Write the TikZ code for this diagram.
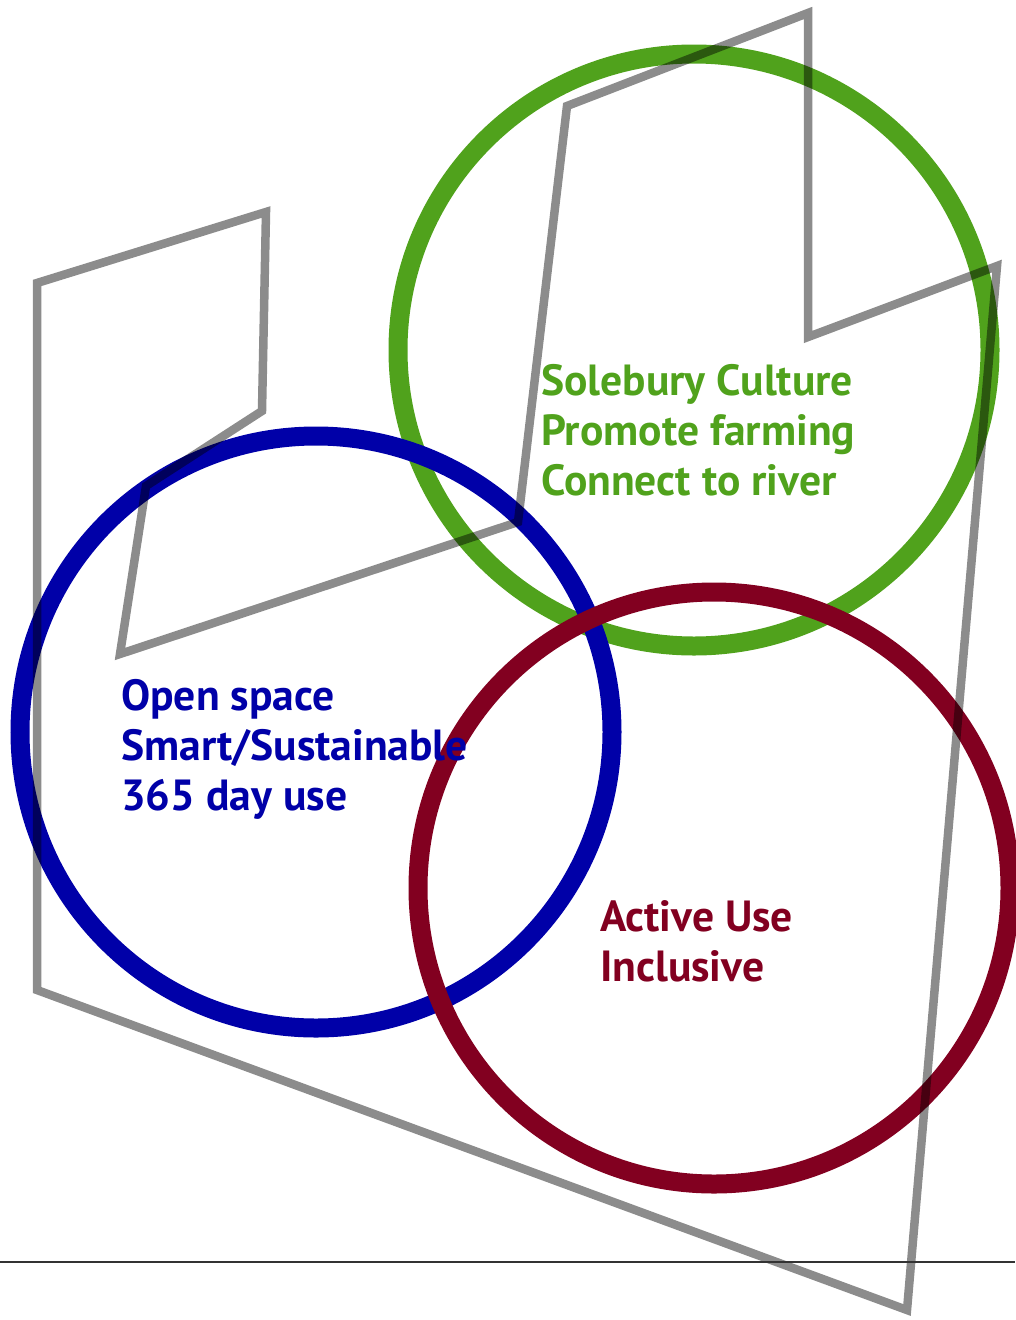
\documentclass[tikz,border=0pt]{standalone}
\usepackage{fontspec}
\setmainfont{PT Sans}
\definecolor{cgreen}{RGB}{80,162,28}
\definecolor{cblue}{RGB}{0,0,168}
\definecolor{cred}{RGB}{130,0,32}
\begin{document}
\begin{tikzpicture}[x=1pt,y=-1pt,
  ring/.style={line width=19pt},
  outline/.style={draw=black,draw opacity=0.45,line width=8.5pt,line join=miter},
  lbl/.style={anchor=base west,inner sep=0pt,font=\fontsize{43.6}{50}\selectfont\bfseries}]
\useasboundingbox (0,0) rectangle (1015,1320);
% circles
\draw[ring,cgreen] (694,350) circle[radius=296];
\draw[ring,cblue] (316,732) circle[radius=296];
\draw[ring,cred] (714,888) circle[radius=296];
% outline shape
\coordinate (p1) at (37,283);
\coordinate (p2) at (37,990);
\coordinate (p3) at (907,1310);
\coordinate (p4) at (997,266);
\coordinate (p5) at (808,337);
\coordinate (p6) at (808,13);
\coordinate (p7) at (567,106);
\coordinate (p8) at (518,522);
\coordinate (p9) at (120,654);
\coordinate (p10) at (146,486);
\coordinate (p11) at (262,411);
\coordinate (p12) at (266,212);
\draw[outline] (p1) -- (p2) -- (p3) -- (p4) -- (p5) -- (p6) -- (p7) -- (p8) -- (p9) -- (p10) -- (p11) -- (p12) -- cycle;
% base line
\coordinate (l1) at (0,1262);
\coordinate (l2) at (1015,1262);
\draw[line width=2pt,black!80] (l1) -- (l2);
% labels
\node[lbl,text=cgreen] (g1) at (541,395) {Solebury Culture};
\node[lbl,text=cgreen] (g2) at (541,445) {Promote farming};
\node[lbl,text=cgreen] (g3) at (541,495) {Connect to river};
\node[lbl,text=cblue] (b1) at (121,710) {Open space};
\node[lbl,text=cblue] (b2) at (121,760) {Smart/Sustainable};
\node[lbl,text=cblue] (b3) at (121,810) {365 day use};
\node[lbl,text=cred] (r1) at (600,931) {Active Use};
\node[lbl,text=cred] (r2) at (600,981) {Inclusive};
\end{tikzpicture}
\end{document}
